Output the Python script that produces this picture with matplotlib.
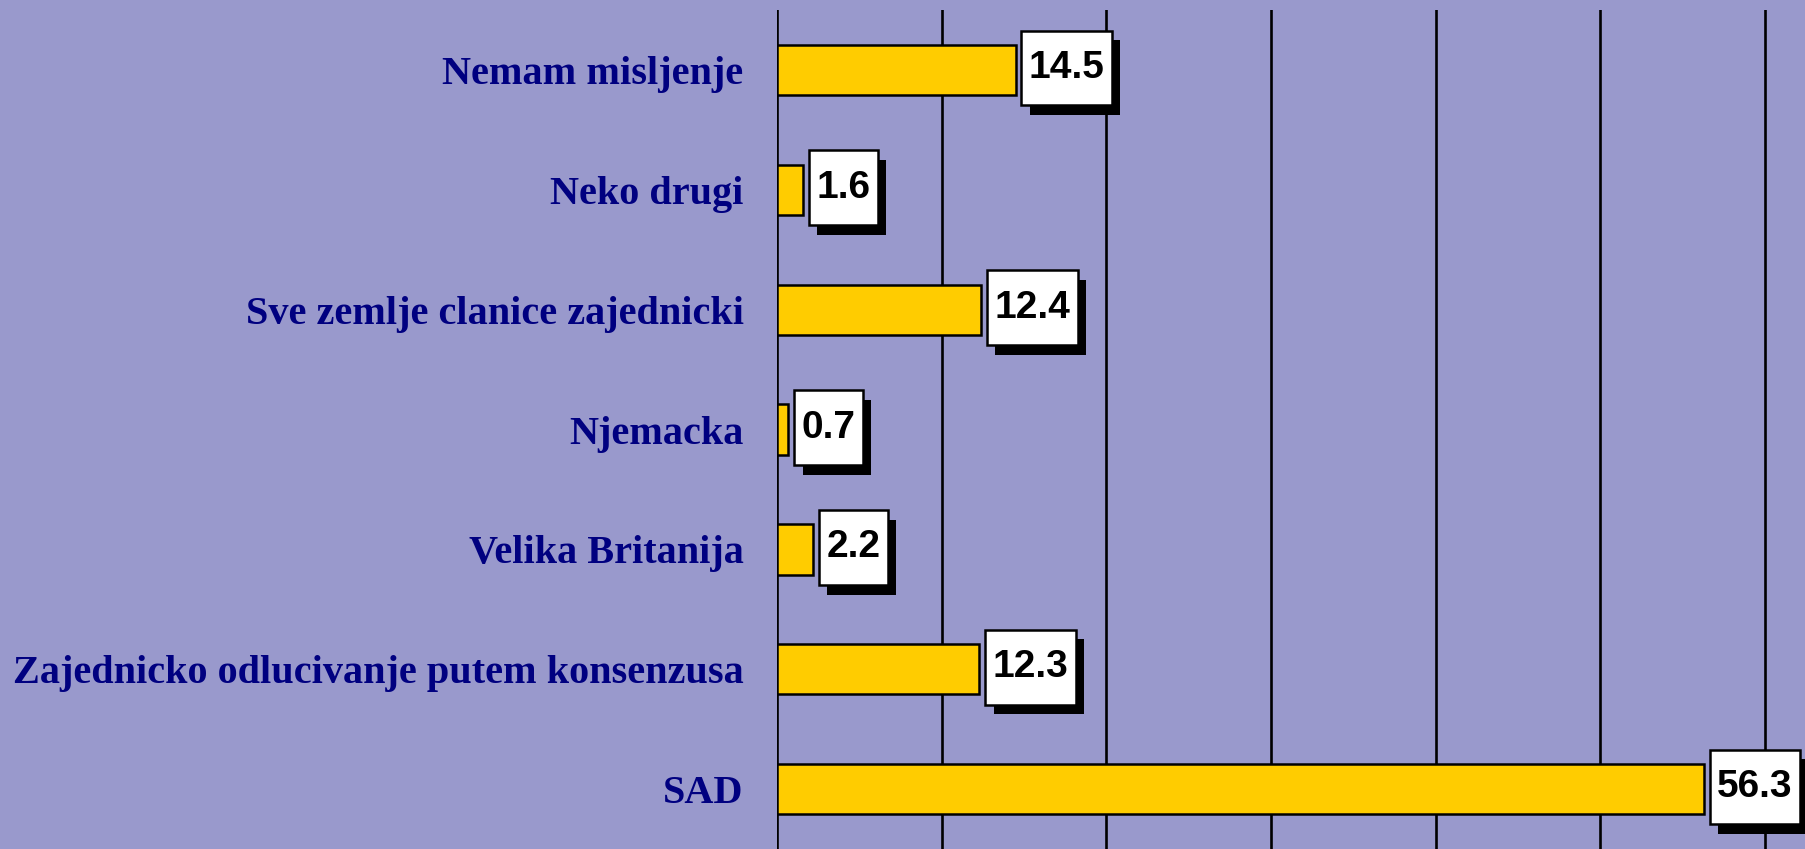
import matplotlib
matplotlib.use("Agg")
import matplotlib.pyplot as plt
import matplotlib.patheffects as pe
from matplotlib.path import Path

categories = ["Nemam misljenje", "Neko drugi", "Sve zemlje clanice zajednicki",
              "Njemacka", "Velika Britanija",
              "Zajednicko odlucivanje putem konsenzusa", "SAD"]
values = [14.5, 1.6, 12.4, 0.7, 2.2, 12.3, 56.3]

BG = "#9999CC"
BAR = "#FFCC00"
NAVY = "#000080"


def label_box(x0, y0, width, height, mutation_size):
    # wider vertical padding than horizontal, like the original value boxes
    px = 0.19 * mutation_size
    py = 0.5 * mutation_size
    x1, y1 = x0 - px, y0 - py
    x2, y2 = x0 + width + px, y0 + height + py
    return Path([(x1, y1), (x2, y1), (x2, y2), (x1, y2), (x1, y1)], closed=True)


fig = plt.figure(figsize=(18.06, 8.49), dpi=100, facecolor=BG)
ax = fig.add_axes([0.4302, 0.0, 0.5698, 0.988], facecolor=BG)

ypos = list(range(len(categories)))
ax.barh(ypos, values, height=0.42, color=BAR, edgecolor="black", linewidth=1.8, zorder=3)

ax.set_xlim(0, 62.5)
ax.set_ylim(len(categories) - 0.5, -0.5)
ax.set_xticks(range(0, 61, 10))
ax.xaxis.grid(True, color="black", linewidth=1.9)
ax.tick_params(axis="x", length=0, labelbottom=False)
ax.tick_params(axis="y", length=0, pad=24)
for s in ax.spines.values():
    s.set_visible(False)

ax.set_yticks(ypos)
ax.set_yticklabels(categories, fontfamily="Liberation Serif", fontweight="bold",
                   fontsize=29, color=NAVY)

for y, v in zip(ypos, values):
    t = ax.annotate(f"{v:.1f}", xy=(v, y), xytext=(9.5, 1.5), textcoords="offset points",
                    ha="left", va="center", fontsize=28, fontweight="bold",
                    fontfamily="Liberation Sans", color="black", zorder=5,
                    bbox=dict(boxstyle=label_box, facecolor="white",
                              edgecolor="black", linewidth=1.8))
    t.get_bbox_patch().set_path_effects([
        pe.SimplePatchShadow(offset=(6, -7), shadow_rgbFace="black", alpha=1.0),
        pe.Normal()])

fig.savefig("out.png", dpi=100, facecolor=BG)
